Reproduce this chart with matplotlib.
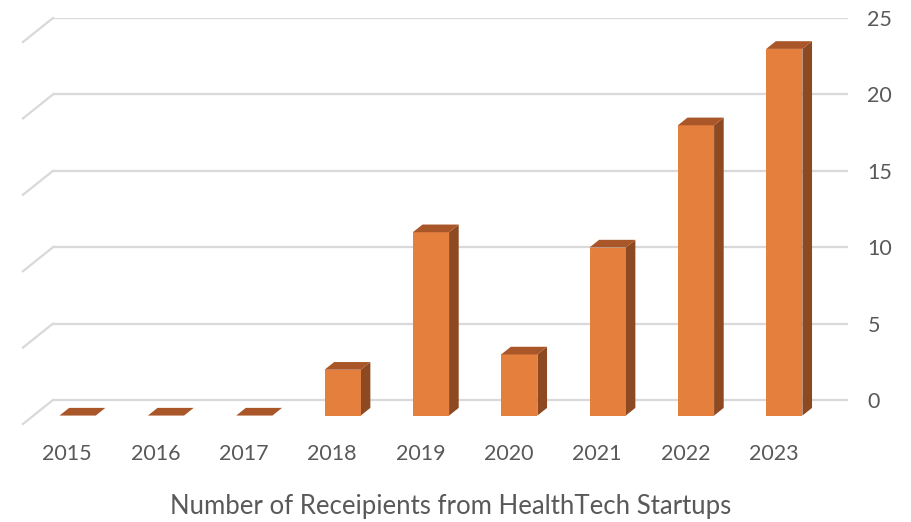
import matplotlib
matplotlib.use("Agg")
import matplotlib.pyplot as plt
from matplotlib.patches import Polygon

years = ["2015", "2016", "2017", "2018", "2019", "2020", "2021", "2022", "2023"]
recipients = [0, 0, 0, 3, 12, 4, 11, 19, 24]
yticks = [0, 5, 10, 15, 20, 25]
xlabel = "Number of Receipients from HealthTech Startups"

front_col = "#E47F3E"
top_col = "#A95628"
side_col = "#8C4922"
grid_col = "#D9D9D9"
text_col = "#595959"

plt.rcParams["font.family"] = ["Lato", "DejaVu Sans"]

fig = plt.figure(figsize=(9.12, 5.22), dpi=100)
ax = fig.add_axes([53 / 912, 97.6 / 522, 795 / 912, 406.4 / 522])
ax.set_xlim(-0.5, 8.5)
ax.set_ylim(-1.6, 25)

# depth offset from back wall to front of floor (data units)
DX = -0.34
DY = -1.572
a, b = 0.33, 0.65  # bar back / bar front depth fraction
w = 0.205


def P(x, y, d):
    return (x + d * DX, y + d * DY)


# back wall gridlines + left side wall lines
for t in yticks:
    ax.plot([-0.5, 8.5], [t, t], color=grid_col, lw=1.6, zorder=1, solid_capstyle="butt")
    ax.plot([-0.5, -0.5 + DX], [t, t + DY], color=grid_col, lw=1.6, zorder=1, clip_on=False)

for i, v in enumerate(recipients):
    front = [P(i - w, 0, b), P(i + w, 0, b), P(i + w, v, b), P(i - w, v, b)]
    top = [P(i - w, v, b), P(i + w, v, b), P(i + w, v, a), P(i - w, v, a)]
    side = [P(i + w, 0, b), P(i + w, v, b), P(i + w, v, a), P(i + w, 0, a)]
    if v > 0:
        ax.add_patch(Polygon(side, closed=True, fc=side_col, ec="none", zorder=3))
        ax.add_patch(Polygon(front, closed=True, fc=front_col, ec="none", zorder=3))
    ax.add_patch(Polygon(top, closed=True, fc=top_col, ec="none", zorder=3))

ax.set_xticks([i + DX for i in range(len(years))])
ax.set_xticklabels(years)
ax.set_yticks(yticks)
ax.yaxis.tick_right()
ax.tick_params(axis="x", length=0, pad=14, labelsize=15.5, labelcolor=text_col)
ax.tick_params(axis="y", length=0, pad=14, labelsize=15.5, labelcolor=text_col)
ax.set_xlabel(xlabel, fontsize=18.5, color=text_col, labelpad=22)
for s in ax.spines.values():
    s.set_visible(False)

fig.savefig("out.png", dpi=100, facecolor="white")
